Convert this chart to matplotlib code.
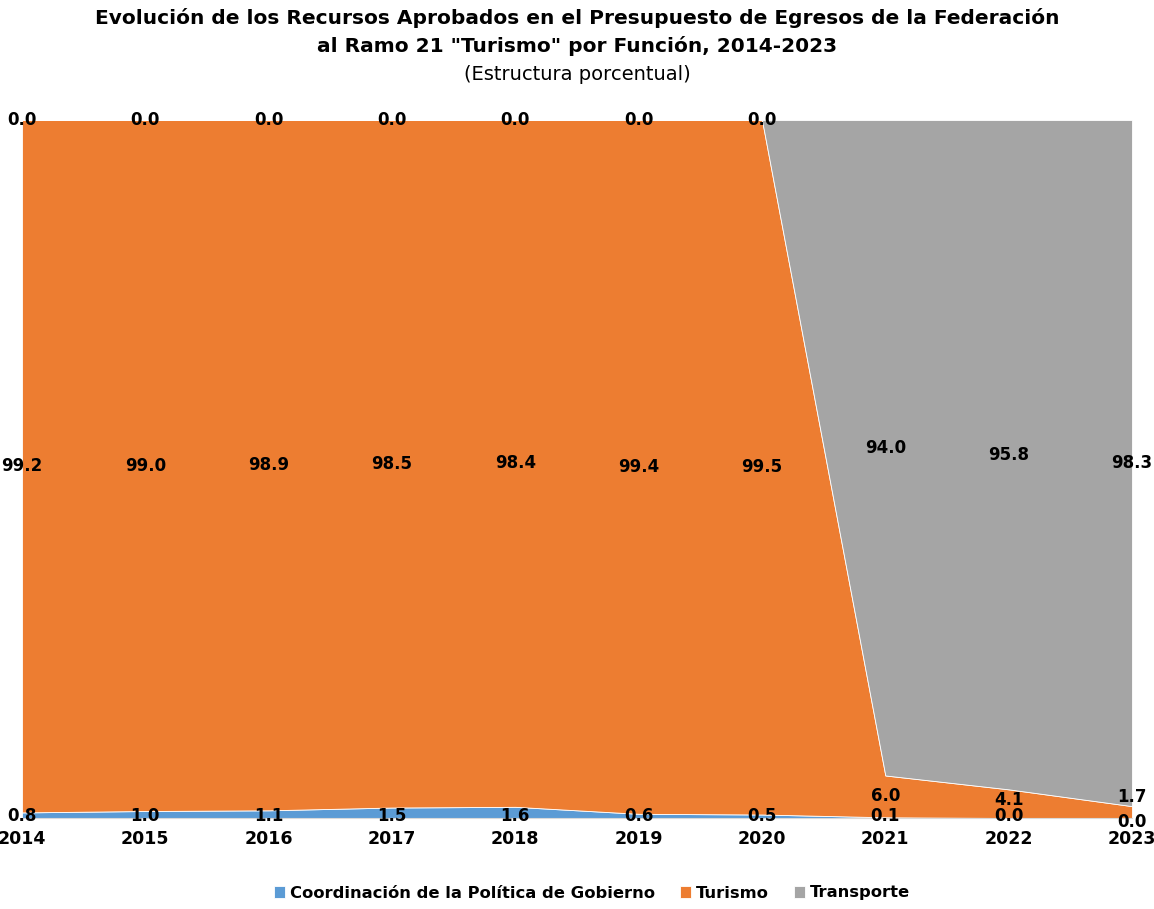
import matplotlib.pyplot as plt
import numpy as np

years = [2014, 2015, 2016, 2017, 2018, 2019, 2020, 2021, 2022, 2023]
coordinacion = [0.8, 1.0, 1.1, 1.5, 1.6, 0.6, 0.5, 0.1, 0.0, 0.0]
turismo = [99.2, 99.0, 98.9, 98.5, 98.4, 99.4, 99.5, 6.0, 4.1, 1.7]
transporte = [0.0, 0.0, 0.0, 0.0, 0.0, 0.0, 0.0, 94.0, 95.8, 98.3]

series_names = ['Coordinación de la Política de Gobierno', 'Turismo', 'Transporte']
colors = ['#5B9BD5', '#ED7D31', '#A5A5A5']

fig = plt.figure(figsize=(11.54, 9.09), dpi=100)
ax = fig.add_axes([22 / 1154, 91 / 909, 1110 / 1154, 698 / 909])

x = np.arange(len(years))
stack = np.vstack([coordinacion, turismo, transporte])
# 100% stacked, like the original
shares = stack / stack.sum(axis=0) * 100
ax.stackplot(x, shares, colors=colors, labels=series_names,
             edgecolor='white', linewidth=0.6)

ax.set_xlim(0, len(years) - 1)
ax.set_ylim(0, 100)
ax.set_yticks([])
for s in ['left', 'right', 'top']:
    ax.spines[s].set_visible(False)
ax.spines['bottom'].set_color('#D9D9D9')
ax.set_xticks(x)
ax.set_xticklabels([str(y) for y in years], fontsize=12.5, fontweight='bold')
ax.tick_params(axis='x', length=0, pad=9)

# data labels at the middle of each band
bottoms = np.cumsum(shares, axis=0) - shares
label_kw = dict(ha='center', va='center', fontsize=12, fontweight='bold', color='black')
for i in range(len(years)):
    for k in range(3):
        v = stack[k, i]
        y = bottoms[k, i] + shares[k, i] / 2
        if k == 2 and v == 0:
            y = 100
        if k == 0:
            y = 0.3
        if i == len(years) - 2 and k == 1:
            y = 2.6
        if i == len(years) - 1 and k == 0:
            y = -0.6
        if i == len(years) - 1 and k == 1:
            y = 3.0
        ax.text(x[i], y, f'{v:.1f}', clip_on=False, **label_kw)

fig.text(0.5, 1 - 18 / 909, 'Evolución de los Recursos Aprobados en el Presupuesto de Egresos de la Federación',
         ha='center', va='center', fontsize=14.5, fontweight='bold')
fig.text(0.5, 1 - 46 / 909, 'al Ramo 21 "Turismo" por Función, 2014-2023',
         ha='center', va='center', fontsize=14.5, fontweight='bold')
fig.text(0.5, 1 - 75 / 909, '(Estructura porcentual)',
         ha='center', va='center', fontsize=14)

leg = fig.legend(loc='center', bbox_to_anchor=(0.513, 1 - 893 / 909), ncol=3, frameon=False,
                 prop={'weight': 'bold', 'size': 11.8}, handlelength=0.7, handleheight=0.7,
                 handletextpad=0.3, columnspacing=1.5)

fig.savefig('out.png', dpi=100)
